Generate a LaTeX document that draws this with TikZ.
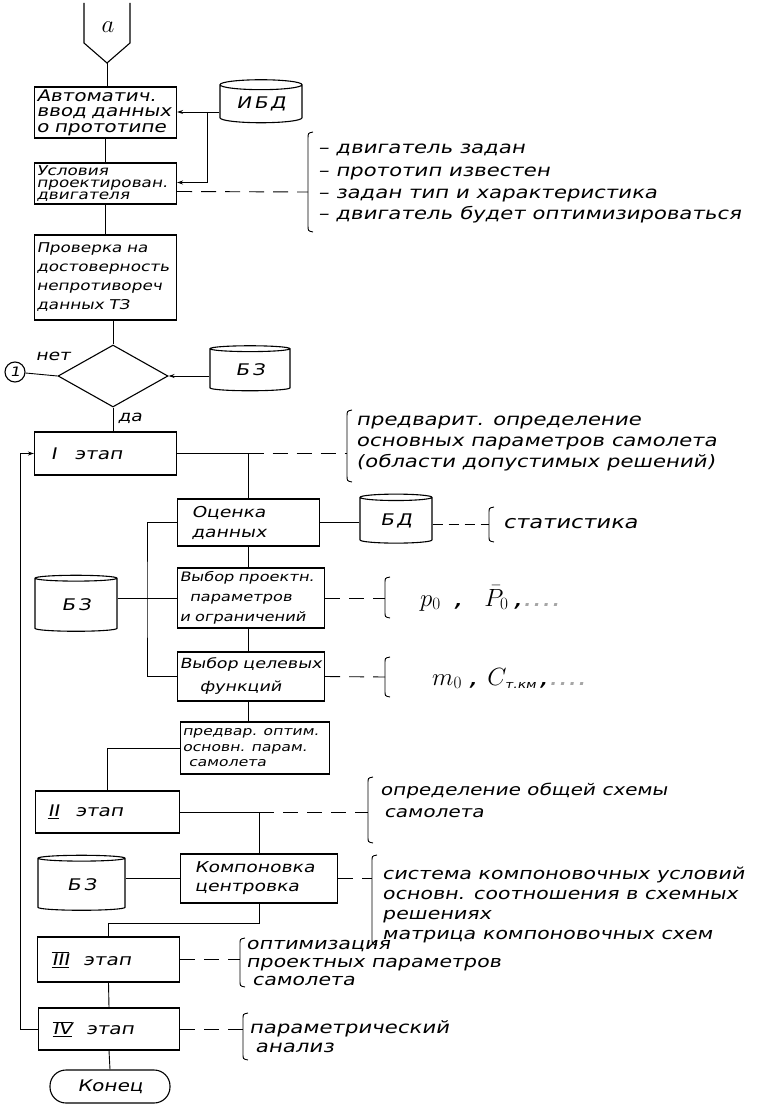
\documentclass[tikz,border=0pt]{standalone}
\usepackage{fontspec}
\setmainfont{DejaVu Sans}[FakeSlant=0.2,FakeStretch=1.25]
\usetikzlibrary{shapes.geometric,arrows.meta}

\tikzset{
  block/.style={draw, line width=1.1pt, inner sep=2pt, align=left},
  store/.style={draw, line width=1.1pt, cylinder, shape border rotate=90,
    aspect=0.2, inner sep=0pt, font=\fontsize{16}{16}\selectfont},
  note/.style={anchor=base west, align=left, inner sep=0pt,
    font=\fontsize{17}{21}\selectfont},
  link/.style={line width=0.9pt},
  hint/.style={line width=0.9pt, dash pattern=on 15pt off 9pt},
  into/.style={link, -{Stealth[length=6pt,width=4pt]}},
}

\begin{document}
\begin{tikzpicture}[x=1pt,y=-1pt]
  \useasboundingbox (0,0) rectangle (763,1107);

  % Off-page connector
  \draw[line width=1.1pt] (84,3) -- (84,43) -- (107,63) -- (130,43) -- (130,3);
  \node[font=\fontsize{28}{28}\selectfont] (conA) at (108,27) {$a$};
  \coordinate (conAtip) at (107,63);

  % Input and check
  \node[block, text width=138, minimum height=51, font=\fontsize{16}{15.5}\selectfont] (auto) at (105.5,112.5) {Автоматич.\\ввод данных\\о прототипе};
  \node[block, text width=138, minimum height=41, font=\fontsize{13.5}{12}\selectfont] (cond) at (105.5,183.5) {Условия\\проектирован.\\двигателя};
  \node[block, text width=138, minimum height=85, font=\fontsize{13.5}{19}\selectfont] (check) at (105.5,277.5) {Проверка на\\достоверность\\непротиворeч\\данных ТЗ};
  \node[store, minimum width=82, minimum height=43] (ibd) at (261,104) {И\,Б\,Д};

  % Decision
  \node[diamond, draw, line width=1.1pt, minimum width=110, minimum height=62, inner sep=0pt] (dec) at (113,376) {};
  \node[draw, circle, line width=1.1pt, minimum size=20, inner sep=0pt, font=\fontsize{13}{13}\selectfont] (exit1) at (15,372) {1};
  \node[font=\fontsize{15}{15}\selectfont] (no) at (53,356) {нет};
  \node[font=\fontsize{15}{15}\selectfont] (yes) at (130,418) {да};
  \node[store, minimum width=80, minimum height=45] (kb1) at (250,370) {Б\,З};

  % Stage I
  \node[block, text width=138, minimum height=43, font=\fontsize{16}{16}\selectfont] (stage1) at (105.5,453.5) {\hspace*{14pt}I\hspace{18pt}этап};
  \node[block, text width=138, minimum height=47, font=\fontsize{15}{20}\selectfont] (est) at (248.5,522.5) {\hspace*{12pt}Оценка\\\hspace*{12pt}данных};
  \node[store, minimum width=72, minimum height=49] (db) at (396,520.5) {Б\,Д};
  \node[block, text width=143, minimum height=60, font=\fontsize{13}{20}\selectfont] (choice) at (251,598) {Выбор проектн.\\\hspace*{10pt}параметров\\и ограничений};
  \node[block, text width=143, minimum height=49, font=\fontsize{14}{23}\selectfont] (goal) at (251,676.5) {Выбор целевых\\\hspace*{20pt}функций};
  \node[store, minimum width=82, minimum height=56] (kb2) at (76,605) {Б\,З};
  \node[block, text width=145, minimum height=52, font=\fontsize{12.5}{15.5}\selectfont] (prelim) at (255,748) {предвар. оптим.\\основн. парам.\\\hspace*{6pt}самолета};

  % Stages II-IV
  \node[block, text width=140, minimum height=42, font=\fontsize{16}{16}\selectfont] (stage2) at (107.5,812) {\hspace*{10pt}\underline{II}\hspace{16pt}этап};
  \node[block, text width=153, minimum height=49, font=\fontsize{15}{19}\selectfont] (layout) at (259,878.5) {\hspace*{12pt}Компоновка\\\hspace*{12pt}центровка};
  \node[store, minimum width=87, minimum height=55] (kb3) at (81.5,884.5) {Б\,З};
  \node[block, text width=138, minimum height=45, font=\fontsize{16}{16}\selectfont] (stage3) at (108.5,959.5) {\hspace*{12pt}$\overline{\underline{\mbox{III}}}$\hspace{14pt}этап};
  \node[block, text width=137, minimum height=42, font=\fontsize{16}{16}\selectfont] (stage4) at (109,1029) {\hspace*{12pt}$\overline{\underline{\mbox{IV}}}$\hspace{14pt}этап};
  \node[draw, line width=1.1pt, rounded corners=16pt, minimum width=120, minimum height=33, font=\fontsize{16}{16}\selectfont] (stop) at (110,1086.5) {Конец};

  % Main flow
  \draw[link] (conAtip) -- (conAtip |- auto.north);
  \draw[link] (auto.south) -- (cond.north);
  \draw[link] (cond.south) -- (check.north);
  \draw[link] (dec.north |- check.south) -- (dec.north);
  \draw[link] (exit1) -- (dec.west);
  \draw[into] (dec.east -| kb1.west) -- (dec.east);
  \draw[link] (dec.south) -- (dec.south |- stage1.north);

  % Data base links
  \coordinate (ibdjoint) at (207,112);
  \draw[into] (ibd.west |- ibdjoint) -- (auto.east |- ibdjoint);
  \draw[into] (ibdjoint) |- ([yshift=1pt]cond.east);

  % Note 1
  \coordinate (brace1) at (308,192);
  \draw[hint] ([yshift=-8pt]cond.east) -- (brace1);
  \draw[link] (313,132) .. controls (308,133) .. (308,139) -- (308,225) .. controls (308,231) .. (313,232);
  \node[note, font=\fontsize{17}{22}\selectfont] (note1) at (318,220) {– двигатель задан\\– прототип известен\\– задан тип и характеристика\\– двигатель будет оптимизироваться};

  % Stage I links
  \draw[link] (stage1.east) -| (est.north);
  \coordinate (brace2) at (347,453.5);
  \draw[hint] (stage1.east -| est.north) -- (brace2);
  \draw[link] (352,410) .. controls (347,411) .. (347,417) -- (347,475) .. controls (347,481) .. (352,482);
  \node[note] (note2) at (356,467) {предварит. определение\\основных параметров самолета\\(области допустимых решений)};

  \draw[link] (est.south) -- (est.south |- choice.north);
  \draw[link] (est.south |- choice.south) -- (est.south |- goal.north);
  \draw[link] (est.south |- goal.south) -- (est.south |- prelim.north);
  \draw[link] (est.east) -- (est.east -| db.west);

  \coordinate (brace3) at (489,524);
  \draw[hint, dash pattern=on 10pt off 6pt] (db.east |- brace3) -- (brace3);
  \draw[link] (494,507) .. controls (489,508) .. (489,513) -- (489,536) .. controls (489,541) .. (494,542);
  \node[note, font=\fontsize{18}{18}\selectfont] (note3) at (503,528) {статистика};

  \coordinate (fork) at (147,600);
  \draw[link] (est.west) -| (fork) |- (goal.west);
  \draw[link] (choice.west -| kb2.east) -- (choice.west);

  \coordinate (brace4) at (385,598);
  \draw[hint] (choice.east) -- (brace4);
  \draw[link] (390,577) .. controls (385,578) .. (385,583) -- (385,612) .. controls (385,617) .. (390,618);
  \node[note, font=\fontsize{24}{24}\selectfont] (note4) at (420,606) {$p_0$\hspace{12pt},\hspace{22pt}$\bar{P}_0$\hspace{4pt},\textcolor{black!35}{....}};

  \coordinate (brace5) at (385,677);
  \draw[hint] (goal.east) -- (brace5);
  \draw[link] (390,657) .. controls (385,658) .. (385,663) -- (385,691) .. controls (385,696) .. (390,697);
  \node[note, font=\fontsize{24}{24}\selectfont] (note5) at (432,685) {$m_0$\hspace{6pt},\hspace{10pt}$C_{\mbox{\fontsize{11}{11}\selectfont т.км}}$\hspace{2pt},\textcolor{black!35}{....}};

  % Stage II links
  \draw[link] (prelim.west) -| (stage2.north);
  \draw[link] (stage2.east) -| (layout.north);
  \coordinate (brace6) at (368,812);
  \draw[hint] (stage2.east -| layout.north) -- (brace6);
  \draw[link] (373,777) .. controls (368,778) .. (368,783) -- (368,837) .. controls (368,842) .. (373,843);
  \node[note, font=\fontsize{16}{22}\selectfont] (note6) at (380,817) {определение общей схемы\\\hspace*{4pt}самолета};

  \draw[link] (layout.west -| kb3.east) -- (layout.west);
  \coordinate (brace7) at (372,878.5);
  \draw[hint] (layout.east) -- (brace7);
  \draw[link] (377,855) .. controls (372,856) .. (372,861) -- (372,939) .. controls (372,944) .. (377,945);
  \node[note, font=\fontsize{16.5}{19.7}\selectfont] (note7) at (382,939) {система компоновочных условий\\основн. соотношения в схемных\\решениях\\матрица компоновочных схем};

  % Stages III and IV links
  \draw[link] (layout.south) -- ++(0,20) -| (stage3.north);
  \coordinate (brace8) at (240,959.5);
  \draw[hint] (stage3.east) -- (brace8);
  \draw[link] (245,938) .. controls (240,939) .. (240,944) -- (240,981) .. controls (240,986) .. (245,987);
  \node[note, font=\fontsize{16.5}{18}\selectfont] (note8) at (246,985) {оптимизация\\проектных параметров\\\hspace*{6pt}самолета};

  \draw[link] (stage3.south) -- (stage4.north);
  \coordinate (brace9) at (243,1029);
  \draw[hint] (stage4.east) -- (brace9);
  \draw[link] (248,1013) .. controls (243,1014) .. (243,1019) -- (243,1054) .. controls (243,1059) .. (248,1060);
  \node[note, font=\fontsize{17}{19}\selectfont] (note9) at (249,1052) {параметрический\\\hspace*{6pt}анализ};

  \draw[link] (stage4.south) -- (stop.north);

  % Return loop
  \coordinate (loop) at (20,1029);
  \draw[into] (stage4.west) -- (loop) |- (stage1.west);

\end{tikzpicture}
\end{document}
